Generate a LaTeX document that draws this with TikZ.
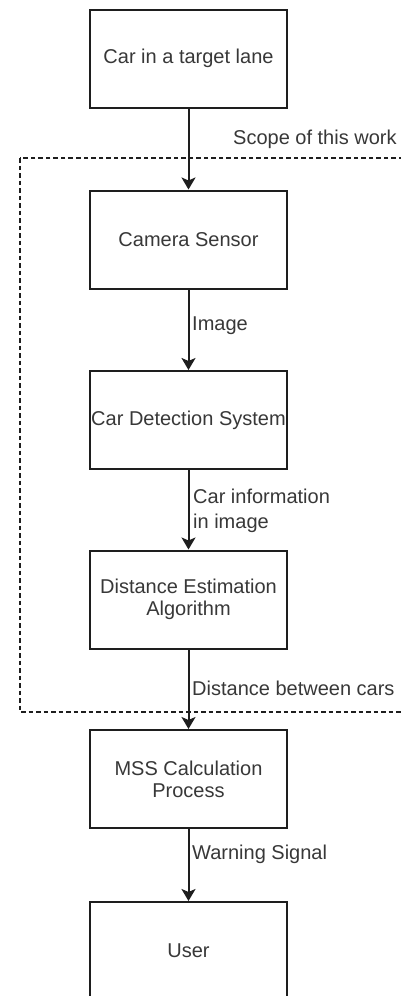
\documentclass[tikz,border=0pt]{standalone}
\usepackage{fontspec}
\setmainfont{Liberation Sans}
\usetikzlibrary{arrows.meta}
\definecolor{linec}{HTML}{1E1E1E}
\definecolor{textc}{HTML}{383838}
\tikzset{
  box/.style={draw=linec, line width=2pt, fill=white, minimum width=197pt, minimum height=98pt, inner sep=0pt, align=center, text=textc, font=\fontsize{20}{22}\selectfont},
  arr/.style={draw=linec, line width=2pt, -{Stealth[length=12pt, width=14pt, inset=3pt]}},
  lab/.style={anchor=west, inner sep=0pt, align=left, text=textc, font=\fontsize{20}{25}\selectfont},
  scopebox/.style={draw=linec, line width=1.5pt, dash pattern=on 4.5pt off 3pt}
}
\begin{document}
\begin{tikzpicture}[x=1pt, y=-1pt]
\useasboundingbox (0,0) rectangle (401,996);
\clip (0,0) rectangle (401,996);
\fill[white] (0,0) rectangle (401,996);
\draw[scopebox] (20,158) rectangle (430,712);
\node[box] (b1) at (188.5,58.5) {Car in a target lane};
\node[box] (b2) at (188.5,239.5) {Camera Sensor};
\node[box] (b3) at (188.5,420) {Car Detection System};
\node[box] (b4) at (188.5,599.5) {Distance Estimation\\Algorithm};
\node[box] (b5) at (188.5,779) {MSS Calculation\\Process};
\node[box] (b6) at (188.5,951) {User};
\draw[arr] (b1) -- (b2);
\draw[arr] (b2) -- (b3);
\draw[arr] (b3) -- (b4);
\draw[arr] (b4) -- (b5);
\draw[arr] (b5) -- (b6);
\node[lab] (l0) at (233,139) {Scope of this work};
\node[lab] (l1) at (192,326) {Image};
\node[lab] (l2) at (193,510.5) {Car information\\in image};
\node[lab] (l3) at (192,688) {Distance between cars};
\node[lab] (l4) at (192,854) {Warning Signal};
\end{tikzpicture}
\end{document}
